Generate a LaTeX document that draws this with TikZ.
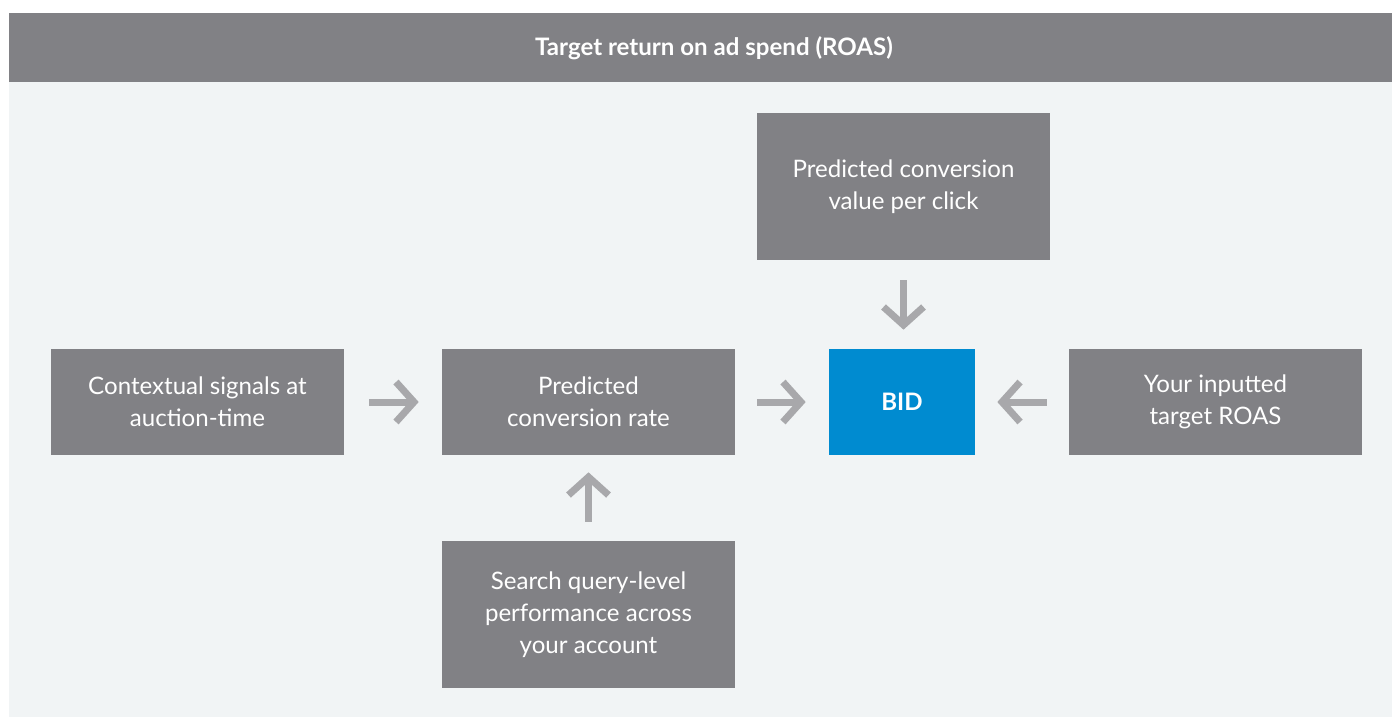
\documentclass[tikz,border=0pt]{standalone}
\usepackage{fontspec}
\setmainfont{Lato}
\usetikzlibrary{arrows.meta}

\definecolor{boxgray}{HTML}{818185}
\definecolor{panelbg}{HTML}{F1F4F5}
\definecolor{bidblue}{HTML}{008BD0}
\definecolor{arrowgray}{HTML}{A8A8AB}

\tikzset{
    infobox/.style={fill=boxgray, text=white, minimum width=5.86cm, align=center,
        font=\fontsize{13.7}{18.2}\selectfont, inner sep=0pt},
    flow/.style={-{Straight Barb[length=0.36cm, width=0.8cm]}, line width=0.14cm, arrowgray}
}

\begin{document}
\begin{tikzpicture}[x=0.02cm, y=-0.02cm]
    % Frame and title bar
    \useasboundingbox (0,0) rectangle (1392,717);
    \fill[panelbg] (9,82) rectangle (1392,717);
    \fill[boxgray] (9,13) rectangle (1392,82);
    \node[text=white, font=\fontsize{13.7}{16}\selectfont\bfseries] (title) at (714,48) {Target return on ad spend (ROAS)};

    % Boxes
    \node[infobox, minimum height=2.12cm] (context) at (197.5,402) {Contextual signals at\\auction-time};
    \node[infobox, minimum height=2.12cm] (rate) at (588.5,402) {Predicted\\conversion rate};
    \node[fill=bidblue, text=white, minimum width=2.92cm, minimum height=2.12cm,
        font=\fontsize{13.7}{18.2}\selectfont\bfseries] (bid) at (902,402) {BID};
    \node[infobox, minimum height=2.12cm] (target) at (1215.5,402) {Your inputted\\target ROAS};
    \node[infobox, minimum height=2.94cm] (value) at (903.5,186.5) {Predicted conversion\\value per click};
    \node[infobox, minimum height=2.94cm] (query) at (588.5,614.5) {Search query-level\\performance across\\your account};

    % Arrows
    \draw[flow, shorten <=0.5cm, shorten >=0.46cm] (context) -- (rate);
    \draw[flow, shorten <=0.44cm, shorten >=0.46cm] (rate) -- (bid);
    \draw[flow, shorten <=0.44cm, shorten >=0.44cm] (target) -- (bid);
    \draw[flow, shorten <=0.38cm, shorten >=0.34cm] (query) -- (rate);
    \draw[flow, shorten <=0.4cm, shorten >=0.38cm] (value.south) -- (value.south |- bid.north);
\end{tikzpicture}
\end{document}
